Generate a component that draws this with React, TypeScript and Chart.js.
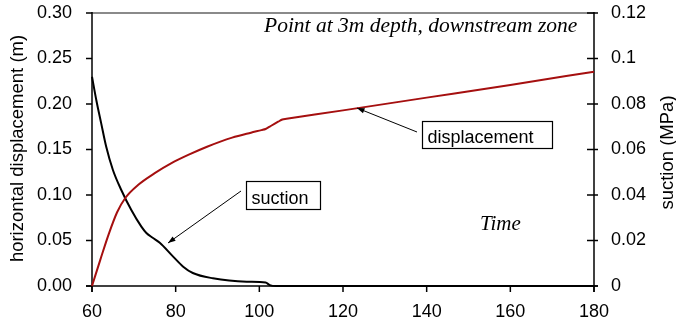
import React, { useEffect, useRef } from 'react';
import { Chart, registerables } from 'chart.js';

Chart.register(...registerables);

// Horizontal displacement (m) over time
const dispTime = [60, 62, 64, 66, 68, 71, 75, 79, 83, 87.5, 93.5, 98, 100.5, 101.5, 102.5, 104.5, 105.5, 106.5, 120, 140, 160, 180];
const dispValues = [0, 0.029, 0.057, 0.081, 0.097, 0.111, 0.124, 0.135, 0.144, 0.153, 0.163, 0.1685, 0.1713, 0.1725, 0.1752, 0.1805, 0.183, 0.1837, 0.193, 0.207, 0.221, 0.2355];

// Suction (MPa) over time
const suctionTime = [60, 61, 62.2, 63.4, 65, 67, 69.4, 71.8, 73, 74.5, 76.2, 79.4, 81.8, 84.1, 88.9, 97, 101.5, 102.5, 104, 120, 140, 160, 180];
const suctionValues = [0.092, 0.082, 0.0715, 0.0612, 0.051, 0.0422, 0.0334, 0.0261, 0.0233, 0.0212, 0.019, 0.0129, 0.0085, 0.0057, 0.0034, 0.0019, 0.0015, 0.0004, 0, 0, 0, 0, 0];

// Axis ticks
const xTicks = [60, 80, 100, 120, 140, 160, 180];
const xTickLabels = ['60', '80', '100', '120', '140', '160', '180'];
const leftTicks = [0, 0.05, 0.1, 0.15, 0.2, 0.25, 0.3];
const leftTickLabels = ['0.00', '0.05', '0.10', '0.15', '0.20', '0.25', '0.30'];
const rightTicks = [0, 0.02, 0.04, 0.06, 0.08, 0.1, 0.12];
const rightTickLabels = ['0', '0.02', '0.04', '0.06', '0.08', '0.1', '0.12'];

// Texts
const leftTitle = 'horizontal displacement (m)';
const rightTitle = 'suction (MPa)';
const headerText = 'Point at 3m depth, downstream zone';
const timeText = 'Time';
const suctionLabel = 'suction';
const dispLabel = 'displacement';

const SANS = '"Liberation Sans", Arial, sans-serif';
const SERIF = '"Liberation Serif", "Times New Roman", serif';
const RED = '#a50f0f';

function seg(ctx: CanvasRenderingContext2D, x1: number, y1: number, x2: number, y2: number) {
  ctx.beginPath();
  ctx.moveTo(x1, y1);
  ctx.lineTo(x2, y2);
  ctx.stroke();
}

function arrow(ctx: CanvasRenderingContext2D, x1: number, y1: number, x2: number, y2: number) {
  ctx.lineWidth = 1;
  ctx.strokeStyle = '#000';
  ctx.fillStyle = '#000';
  seg(ctx, x1, y1, x2, y2);
  const a = Math.atan2(y2 - y1, x2 - x1);
  const len = 8;
  const w = 0.35;
  ctx.beginPath();
  ctx.moveTo(x2, y2);
  ctx.lineTo(x2 - len * Math.cos(a - w), y2 - len * Math.sin(a - w));
  ctx.lineTo(x2 - len * Math.cos(a + w), y2 - len * Math.sin(a + w));
  ctx.closePath();
  ctx.fill();
}

function labelBox(ctx: CanvasRenderingContext2D, text: string, x: number, y: number, w: number, h: number) {
  ctx.lineWidth = 1.2;
  ctx.strokeStyle = '#000';
  ctx.fillStyle = '#fff';
  ctx.fillRect(x, y, w, h);
  ctx.strokeRect(x, y, w, h);
  ctx.fillStyle = '#000';
  ctx.font = `18px ${SANS}`;
  ctx.textAlign = 'left';
  ctx.textBaseline = 'alphabetic';
  ctx.fillText(text, x + 5, y + h - 6);
}

const frame = {
  id: 'frame',
  beforeDatasetsDraw(chart: any) {
    const { ctx, chartArea, scales } = chart;
    const { left, right, top, bottom } = chartArea;
    ctx.save();
    ctx.lineCap = 'butt';
    // top border
    ctx.strokeStyle = '#8a8a8a';
    ctx.lineWidth = 2;
    seg(ctx, left, top, right, top);
    ctx.strokeStyle = '#000';
    ctx.lineWidth = 1.5;
    seg(ctx, left, top - 1, left, bottom + 6);
    seg(ctx, right, top - 1, right, bottom + 6);
    seg(ctx, left - 6, bottom, right + 4, bottom);
    leftTicks.forEach((v) => {
      const y = scales.y.getPixelForValue(v);
      seg(ctx, left - 6, y, left, y);
    });
    rightTicks.forEach((v) => {
      const y = scales.y1.getPixelForValue(v);
      seg(ctx, right - 7, y, right + 4, y);
    });
    xTicks.forEach((v) => {
      const x = scales.x.getPixelForValue(v);
      seg(ctx, x, bottom, x, bottom + 6);
    });
    ctx.restore();
  },
  afterDraw(chart: any) {
    const { ctx, chartArea } = chart;
    const { top, bottom } = chartArea;
    const midY = (top + bottom) / 2;
    ctx.save();
    ctx.fillStyle = '#000';
    ctx.font = `18.5px ${SANS}`;
    ctx.textAlign = 'center';
    ctx.textBaseline = 'middle';
    // axis titles, both reading bottom to top
    ctx.save();
    ctx.translate(18, midY - 1);
    ctx.rotate(-Math.PI / 2);
    ctx.fillText(leftTitle, 0, 0);
    ctx.restore();
    ctx.save();
    ctx.translate(668, midY + 3);
    ctx.rotate(-Math.PI / 2);
    ctx.fillText(rightTitle, 0, 0);
    ctx.restore();

    // italic notes
    ctx.font = `italic 21.5px ${SERIF}`;
    ctx.textAlign = 'left';
    ctx.textBaseline = 'alphabetic';
    ctx.fillText(headerText, 264, 32);
    ctx.font = `italic 21px ${SERIF}`;
    ctx.fillText(timeText, 480, 230);

    // callouts
    arrow(ctx, 241, 191, 168, 243);
    labelBox(ctx, suctionLabel, 246.5, 181.5, 74, 28);
    arrow(ctx, 417, 132, 357, 108);
    labelBox(ctx, dispLabel, 422.5, 121.5, 130, 27);
    ctx.restore();
  },
};

export default function App() {
  const ref = useRef<HTMLCanvasElement | null>(null);

  useEffect(() => {
    if (!ref.current) return;
    const tickFont = { family: SANS, size: 18 };
    const chart = new Chart(ref.current, {
      type: 'line',
      data: {
        datasets: [
          {
            label: 'displacement',
            data: dispTime.map((t, i) => ({ x: t, y: dispValues[i] })),
            yAxisID: 'y',
            borderColor: RED,
            borderWidth: 2,
            pointRadius: 0,
            cubicInterpolationMode: 'monotone',
            clip: false,
          },
          {
            label: 'suction',
            data: suctionTime.map((t, i) => ({ x: t, y: suctionValues[i] })),
            yAxisID: 'y1',
            borderColor: '#000',
            borderWidth: 2,
            pointRadius: 0,
            cubicInterpolationMode: 'monotone',
            clip: false,
          },
        ],
      },
      options: {
        responsive: false,
        animation: false,
        events: [],
        layout: { padding: { top: 13, left: 0, right: 0, bottom: 0 } },
        plugins: { legend: { display: false }, tooltip: { enabled: false } },
        scales: {
          x: {
            type: 'linear',
            position: 'bottom',
            min: 60,
            max: 180,
            grid: { display: false, drawTicks: false },
            border: { display: false },
            afterBuildTicks: (s: any) => {
              s.ticks = xTicks.map((v) => ({ value: v }));
            },
            ticks: {
              font: tickFont,
              color: '#000',
              padding: 15,
              maxRotation: 0,
              autoSkip: false,
              callback: (_v: any, i: number) => xTickLabels[i],
            },
            afterFit: (s: any) => {
              s.height = 45;
              s.paddingLeft = 0;
              s.paddingRight = 0;
            },
          },
          y: {
            type: 'linear',
            position: 'left',
            min: 0,
            max: 0.3,
            grid: { display: false, drawTicks: false },
            border: { display: false },
            afterBuildTicks: (s: any) => {
              s.ticks = leftTicks.map((v) => ({ value: v }));
            },
            ticks: {
              font: tickFont,
              color: '#000',
              padding: 20,
              autoSkip: false,
              callback: (_v: any, i: number) => leftTickLabels[i],
            },
            afterFit: (s: any) => {
              s.width = 92;
              s.paddingTop = 0;
              s.paddingBottom = 0;
            },
          },
          y1: {
            type: 'linear',
            position: 'right',
            min: 0,
            max: 0.12,
            grid: { display: false, drawTicks: false },
            border: { display: false },
            afterBuildTicks: (s: any) => {
              s.ticks = rightTicks.map((v) => ({ value: v }));
            },
            ticks: {
              font: tickFont,
              color: '#000',
              padding: 17,
              autoSkip: false,
              callback: (_v: any, i: number) => rightTickLabels[i],
            },
            afterFit: (s: any) => {
              s.width = 82;
              s.paddingTop = 0;
              s.paddingBottom = 0;
            },
          },
        },
      },
      plugins: [frame],
    } as any);
    return () => chart.destroy();
  }, []);

  return (
    <div style={{ position: 'absolute', left: 0, top: 0, width: 676, height: 331, background: '#fff' }}>
      <canvas ref={ref} width={676} height={331} style={{ display: 'block' }} />
    </div>
  );
}
